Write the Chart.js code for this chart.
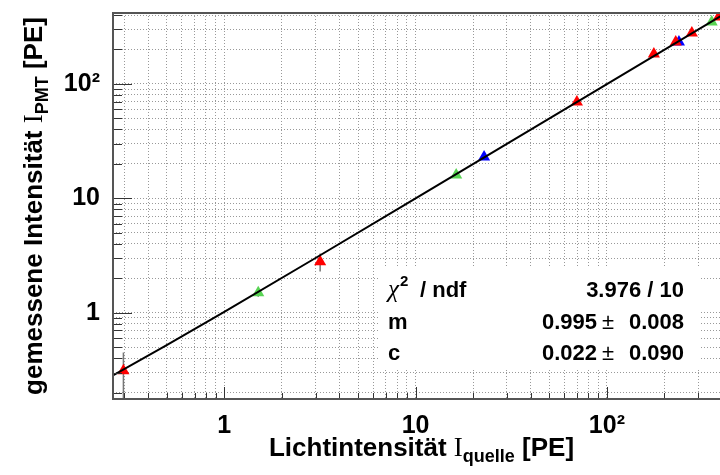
<!DOCTYPE html>
<html>
<head>
<meta charset="utf-8">
<script src="https://cdn.jsdelivr.net/npm/chart.js@4/dist/chart.umd.min.js"></script>
<style>
  html, body { margin: 0; padding: 0; background: #fff; overflow: hidden; }
  #wrap { width: 720px; height: 475px; overflow: hidden; }
</style>
</head>
<body>
<div id="wrap"><canvas id="linChart" width="745" height="475"></canvas></div>
<script>
// Measured PMT intensity vs. source intensity, one series per colour
const redX = [0.297, 3.17, 69.7, 176, 229, 278, 384];
const redY = [0.311, 2.79, 69.6, 183, 233, 279, 385];
const redErr = [0.137, 0.5, 3, 8, 10, 12, 15];

const greenX = [1.505, 16.3, 353];
const greenY = [1.495, 16.0, 348];
const greenErr = [0.12, 0.8, 15];

const blueX = [22.8, 238];
const blueY = [23.0, 233];
const blueErr = [1, 10];

// Linear fit y = m*x + c
const fitM = 0.995, fitMErr = 0.008;
const fitC = 0.022, fitCErr = 0.090;
const chi2 = 3.976, ndf = 10;
const fitX = [0.262, 0.5, 1, 3, 10, 100, 440];

// Axis ranges, grid values and labelled decades
const xMin = 0.262, xMax = 440;
const yMin = 0.176, yMax = 416.8;
const xGrid = [0.3, 0.4, 0.5, 0.6, 0.7, 0.8, 0.9, 1, 2, 3, 4, 5, 6, 7, 8, 9,
  10, 20, 30, 40, 50, 60, 70, 80, 90, 100, 200, 300, 400];
const yGrid = [0.2, 0.3, 0.4, 0.5, 0.6, 0.7, 0.8, 0.9, 1, 2, 3, 4, 5, 6, 7, 8, 9,
  10, 20, 30, 40, 50, 60, 70, 80, 90, 100, 200, 300, 400];
const decadeValues = [1, 10, 100];
const decadeLabels = ['1', '10', '10²'];

const SANS = "'Liberation Sans', Arial, Helvetica, sans-serif";
const SERIF = "'Liberation Serif', 'Times New Roman', serif";

function toPoints(xs, ys) {
  return xs.map((x, i) => ({ x: x, y: ys[i] }));
}

// vertical error bars as separate segments, broken by null gaps
function errorSegments(xs, ys, es) {
  const pts = [];
  xs.forEach((x, i) => {
    pts.push({ x: x, y: ys[i] - es[i] }, { x: x, y: ys[i] + es[i] }, { x: x, y: null });
  });
  return pts;
}

function decadeLabel(v) {
  const i = decadeValues.findIndex(d => Math.abs(d - v) < 1e-9);
  return i >= 0 ? decadeLabels[i] : '';
}

function isDecade(v) {
  return decadeValues.some(d => Math.abs(d - v) < 1e-9);
}

// draws a run of text pieces (with optional baseline shift), centred on x
function drawRich(ctx, parts, cx, baseline) {
  let total = 0;
  parts.forEach(p => { ctx.font = p.font; p.w = ctx.measureText(p.text).width; total += p.w; });
  let x = cx - total / 2;
  ctx.textAlign = 'left';
  ctx.textBaseline = 'alphabetic';
  parts.forEach(p => {
    ctx.font = p.font;
    ctx.fillText(p.text, x, baseline + (p.dy || 0));
    x += p.w;
  });
}

const decor = {
  id: 'decor',
  beforeDatasetsDraw(chart) {
    // fit statistics box
    const ctx = chart.ctx;
    ctx.save();
    ctx.fillStyle = '#fff';
    ctx.fillRect(378, 268, 322, 102);
    ctx.fillStyle = '#000';
    ctx.textBaseline = 'alphabetic';
    ctx.textAlign = 'left';
    ctx.font = 'italic 25px ' + SERIF;
    ctx.fillText('χ', 388, 297);
    const chiW = ctx.measureText('χ').width;
    ctx.font = 'bold 15px ' + SANS;
    ctx.fillText('2', 388 + chiW + 1, 286);
    ctx.font = 'bold 22px ' + SANS;
    ctx.fillText('/ ndf', 420, 297);
    ctx.fillText('m', 388, 328.5);
    ctx.fillText('c', 388, 360);
    ctx.textAlign = 'right';
    ctx.fillText(chi2.toFixed(3) + ' / ' + ndf, 684, 297);
    ctx.fillText(fitM.toFixed(3), 597, 328.5);
    ctx.fillText(fitMErr.toFixed(3), 684, 328.5);
    ctx.fillText(fitC.toFixed(3), 597, 360);
    ctx.fillText(fitCErr.toFixed(3), 684, 360);
    ctx.textAlign = 'center';
    ctx.font = '22px ' + SANS;
    ctx.fillText('±', 608, 328.5);
    ctx.fillText('±', 608, 360);
    ctx.restore();
  },
  afterDraw(chart) {
    const ctx = chart.ctx;
    const a = chart.chartArea;
    const xs = chart.scales.x, ys = chart.scales.y;
    ctx.save();

    // inward tick marks
    ctx.strokeStyle = '#333';
    ctx.lineWidth = 1;
    ctx.beginPath();
    xGrid.forEach(v => {
      const px = Math.round(xs.getPixelForValue(v)) + 0.5;
      const len = isDecade(v) ? 12 : 6;
      ctx.moveTo(px, a.bottom);
      ctx.lineTo(px, a.bottom - len);
    });
    yGrid.forEach(v => {
      const py = Math.round(ys.getPixelForValue(v)) + 0.5;
      const len = isDecade(v) ? 19 : 9;
      ctx.moveTo(a.left, py);
      ctx.lineTo(a.left + len, py);
    });
    ctx.stroke();

    // frame
    ctx.strokeStyle = '#555';
    ctx.lineWidth = 2;
    ctx.strokeRect(a.left, a.top, a.right - a.left, a.bottom - a.top);

    // axis titles
    ctx.fillStyle = '#000';
    drawRich(ctx, [
      { text: 'Lichtintensität ', font: 'bold 26px ' + SANS },
      { text: 'I', font: '27px ' + SERIF },
      { text: 'quelle', font: 'bold 18px ' + SANS, dy: 6 },
      { text: ' [PE]', font: 'bold 26px ' + SANS }
    ], (a.left + a.right) / 2, 456);

    ctx.translate(42, (a.top + a.bottom) / 2);
    ctx.rotate(-Math.PI / 2);
    drawRich(ctx, [
      { text: 'gemessene Intensität ', font: 'bold 26px ' + SANS },
      { text: 'I', font: '27px ' + SERIF },
      { text: 'PMT', font: 'bold 18px ' + SANS, dy: 6 },
      { text: ' [PE]', font: 'bold 26px ' + SANS }
    ], 0, 0);
    ctx.restore();
  }
};

function logAxis(grid, min, max, size, pad) {
  return {
    type: 'logarithmic',
    min: min,
    max: max,
    afterBuildTicks: s => { s.ticks = grid.map(v => ({ value: v })); },
    afterFit: s => {
      if (s.isHorizontal()) s.height = size; else s.width = size;
      s.paddingTop = 0; s.paddingBottom = 0;
      s.paddingLeft = 0; s.paddingRight = 0;
    },
    ticks: {
      autoSkip: false,
      maxRotation: 0,
      padding: pad,
      color: '#000',
      font: { family: SANS, size: 25, weight: 'bold' },
      callback: v => decadeLabel(v)
    },
    grid: { color: '#999', lineWidth: 1, drawTicks: false },
    border: { display: false, dash: [1, 2] }
  };
}

new Chart(document.getElementById('linChart'), {
  type: 'scatter',
  data: {
    datasets: [
      {
        label: 'Fit',
        data: toPoints(fitX, fitX.map(x => fitM * x + fitC)),
        showLine: true,
        borderColor: '#000',
        borderWidth: 2,
        pointRadius: 0,
        order: 0
      },
      {
        label: 'rot',
        data: toPoints(redX, redY),
        pointStyle: 'triangle',
        pointRadius: 7,
        backgroundColor: '#ff0000',
        pointBorderWidth: 0,
        order: 1
      },
      {
        label: 'grün',
        data: toPoints(greenX, greenY),
        pointStyle: 'triangle',
        pointRadius: 7,
        backgroundColor: 'rgb(89,212,84)',
        pointBorderWidth: 0,
        order: 1
      },
      {
        label: 'blau',
        data: toPoints(blueX, blueY),
        pointStyle: 'triangle',
        pointRadius: 7,
        backgroundColor: '#0000ff',
        pointBorderWidth: 0,
        order: 1
      },
      {
        label: 'Fehler',
        data: errorSegments(redX.concat(greenX, blueX), redY.concat(greenY, blueY), redErr.concat(greenErr, blueErr)),
        showLine: true,
        spanGaps: false,
        borderColor: '#777',
        borderWidth: 1.5,
        pointRadius: 0,
        order: 2
      }
    ]
  },
  options: {
    responsive: false,
    animation: false,
    devicePixelRatio: 1,
    layout: { padding: { top: 13, right: 15, left: 0, bottom: 0 } },
    plugins: { legend: { display: false }, tooltip: { enabled: false } },
    scales: {
      x: logAxis(xGrid, xMin, xMax, 76, 12),
      y: logAxis(yGrid, yMin, yMax, 113, 13)
    }
  },
  plugins: [decor]
});
</script>
</body>
</html>
